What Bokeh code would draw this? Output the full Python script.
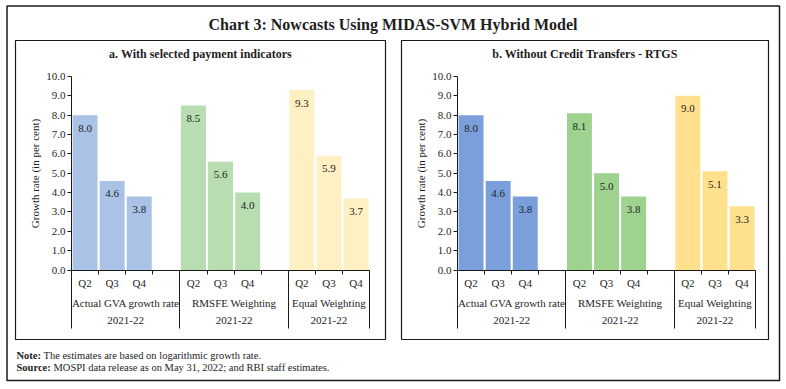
from bokeh.plotting import figure
from bokeh.models import (ColumnDataSource, FixedTicker, LinearAxis, Range1d,
                          Label, NumeralTickFormatter, BoxAnnotation)
from bokeh.core.properties import value
from bokeh.embed import file_html
from bokeh.resources import INLINE

# ---------------- data ----------------
chart_title = "Chart 3: Nowcasts Using MIDAS-SVM Hybrid Model"
panel_titles = ["a. With selected payment indicators",
                "b. Without Credit Transfers - RTGS"]
quarters = ["Q2", "Q3", "Q4"]
groups = ["Actual GVA growth rate", "RMSFE Weighting", "Equal Weighting"]
year_label = "2021-22"
group_slots = [4, 4, 3]          # category slots per group (incl. an empty one)
y_ticks = [0, 1, 2, 3, 4, 5, 6, 7, 8, 9, 10]
y_label = "Growth rate (in per cent)"

actual_a = [8.0, 4.6, 3.8]
rmsfe_a = [8.5, 5.6, 4.0]
equal_a = [9.3, 5.9, 3.7]

actual_b = [8.0, 4.6, 3.8]
rmsfe_b = [8.1, 5.0, 3.8]
equal_b = [9.0, 5.1, 3.3]

colors_a = ["#a9c2e6", "#b8ddb1", "#fff0c3"]
colors_b = ["#7b9fdb", "#9dd28f", "#ffe18d"]

note_label = "Note:"
note_text = "The estimates are based on logarithmic growth rate."
source_label = "Source:"
source_text = "MOSPI data release as on May 31, 2022; and RBI staff estimates."

# ---------------- layout (picture pixels) ----------------
FONT = "Liberation Serif"
INK = "#1e1e1e"
BORDER = "#1a1a1a"
W, H = 781, 382
LEFT_PX, TOP_PX = 1, 1           # where the canvas lands in the picture
SLOT = 27.1                      # px per category slot
UNIT = 19.35                     # px per 1.0 growth-rate point
AXA_PX = 72                      # panel a value-axis x
AXB_PX = 458                     # panel b value-axis x
ZERO_PX = 270.5                  # y of 0.0


def dx(px):
    return (px - AXA_PX) / SLOT


def dy(py):
    return (ZERO_PX - py) / UNIT


p = figure(width=W, height=H, output_backend="svg", toolbar_location=None,
           x_axis_location=None, y_axis_location=None, title=None,
           x_range=Range1d(dx(LEFT_PX), dx(LEFT_PX + W)),
           y_range=Range1d(dy(TOP_PX + H), dy(TOP_PX)),
           min_border=0)
p.grid.visible = False
p.outline_line_color = None
p.background_fill_color = "white"
p.border_fill_color = "white"

# outer frame
p.add_layout(BoxAnnotation(left=dx(7.5), right=dx(780), top=dy(6.5),
                           bottom=dy(381), fill_color=None, fill_alpha=0,
                           line_color=BORDER, line_width=1.5, line_alpha=1,
                           level="underlay"))


def style_text_axis(ax):
    ax.major_label_text_font = FONT
    ax.major_label_text_font_size = "11px"
    ax.major_label_text_color = INK


def add_panel(x0, title, box, series, colors):
    total = sum(group_slots)
    starts = [sum(group_slots[:i]) for i in range(len(group_slots))]

    # panel frame and title
    p.add_layout(BoxAnnotation(left=dx(box[0]), right=dx(box[1]),
                               top=dy(box[2]), bottom=dy(box[3]),
                               fill_color=None, fill_alpha=0,
                               line_color=BORDER, line_width=1.2,
                               line_alpha=1, level="underlay"))
    p.add_layout(Label(x=dx((box[0] + box[1]) / 2), y=dy(box[2] + 13),
                       text=title, text_align="center",
                       text_baseline="middle", text_font=FONT,
                       text_font_size="12px", text_font_style="bold",
                       text_color=INK))

    xs, tops, fills, labels = [], [], [], []
    q_over = {}
    for gi, vals in enumerate(series):
        for qi, v in enumerate(vals):
            xc = x0 + starts[gi] + qi + 0.5
            xs.append(xc)
            tops.append(v)
            fills.append(colors[gi])
            labels.append(f"{v:.1f}")
            q_over[xc] = quarters[qi]
    src = ColumnDataSource(dict(x=xs, top=tops, fill=fills, label=labels))
    p.vbar(x="x", top="top", width=0.92, fill_color="fill", line_color=None,
           source=src)
    p.text(x="x", y="top", text="label", text_align="center",
           text_baseline="middle", y_offset=13, text_font=value(FONT),
           text_font_size="11px", text_color=INK, source=src)

    # value axis
    yax = LinearAxis(fixed_location=x0, bounds=(0, 10),
                     ticker=FixedTicker(ticks=y_ticks),
                     formatter=NumeralTickFormatter(format="0.0"),
                     axis_label=y_label)
    yax.axis_line_color = BORDER
    yax.major_tick_line_color = BORDER
    yax.major_tick_out = 4
    yax.major_tick_in = 0
    yax.minor_tick_out = 0
    yax.major_label_standoff = 2
    style_text_axis(yax)
    yax.axis_label_text_font = FONT
    yax.axis_label_text_font_size = "11px"
    yax.axis_label_text_font_style = "normal"
    yax.axis_label_text_color = INK
    yax.axis_label_standoff = 2
    p.add_layout(yax, "left")

    # category axis line with short ticks at every slot boundary
    bounds = [x0 + b for b in range(total + 1)]
    edges = [x0] + [x0 + sum(group_slots[:i + 1]) for i in range(len(group_slots))]
    ax0 = LinearAxis(fixed_location=0, bounds=(x0, x0 + total),
                     ticker=FixedTicker(ticks=[], minor_ticks=bounds))
    ax0.axis_line_color = BORDER
    ax0.major_tick_out = 0
    ax0.major_tick_in = 0
    ax0.minor_tick_out = 4
    ax0.minor_tick_in = 0
    ax0.minor_tick_line_color = BORDER
    p.add_layout(ax0, "below")

    # long group separators
    axs = LinearAxis(fixed_location=0, bounds=(x0, x0 + total),
                     ticker=FixedTicker(ticks=[], minor_ticks=edges))
    axs.axis_line_color = None
    axs.major_tick_out = 0
    axs.major_tick_in = 0
    axs.minor_tick_out = 58
    axs.minor_tick_in = 0
    axs.minor_tick_line_color = BORDER
    p.add_layout(axs, "below")

    g_centers = [x0 + starts[i] + group_slots[i] / 2 for i in range(len(groups))]
    g_over = {c: g for c, g in zip(g_centers, groups)}
    y_over = {c: year_label for c in g_centers}

    rows = ((list(q_over.keys()), q_over, 7),
            (g_centers, g_over, 27),
            (g_centers, y_over, 47))
    for ticks, over, so in rows:
        ax = LinearAxis(fixed_location=0, bounds=(x0, x0 + total),
                        ticker=FixedTicker(ticks=ticks),
                        major_label_overrides=over)
        ax.axis_line_color = None
        ax.major_tick_out = 0
        ax.major_tick_in = 0
        ax.minor_tick_out = 0
        ax.minor_tick_line_color = None
        ax.major_label_standoff = so
        style_text_axis(ax)
        p.add_layout(ax, "below")


add_panel(0, panel_titles[0], (16, 386, 41, 340),
          [actual_a, rmsfe_a, equal_a], colors_a)
add_panel(dx(AXB_PX), panel_titles[1], (402, 769, 41, 340),
          [actual_b, rmsfe_b, equal_b], colors_b)

# chart title
p.add_layout(Label(x=dx(393.5), y=dy(25), text=chart_title,
                   text_align="center", text_baseline="middle",
                   text_font=FONT, text_font_size="16px",
                   text_font_style="bold", text_color=INK))

# notes
for py, lab, txt, tx in ((356, note_label, note_text, 44),
                         (368, source_label, source_text, 54)):
    p.add_layout(Label(x=dx(17), y=dy(py), text=lab, text_align="left",
                       text_baseline="middle", text_font=FONT,
                       text_font_size="10.5px", text_font_style="bold",
                       text_color=INK))
    p.add_layout(Label(x=dx(tx), y=dy(py), text=txt, text_align="left",
                       text_baseline="middle", text_font=FONT,
                       text_font_size="10.5px", text_color=INK))

open("out.html", "w").write(file_html(p, INLINE))
